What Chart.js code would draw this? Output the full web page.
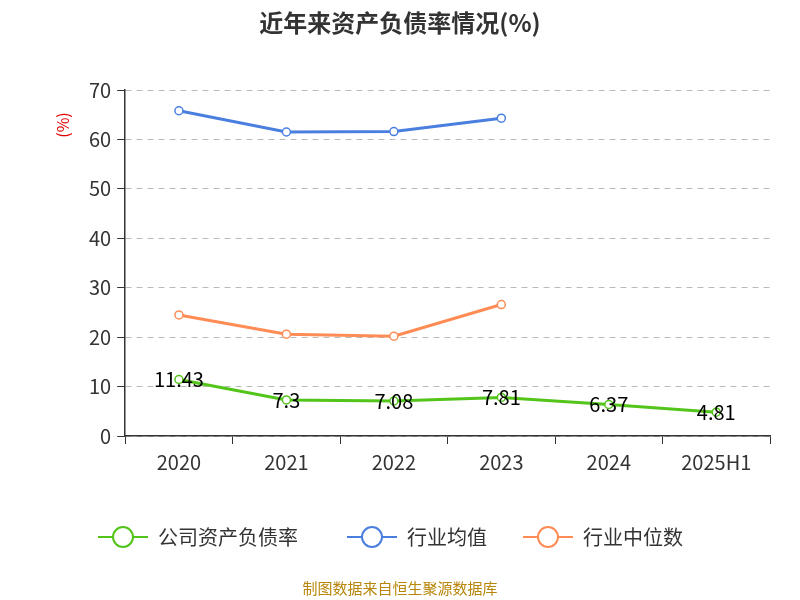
<!DOCTYPE html>
<html>
<head>
<meta charset="utf-8">
<script src="https://cdn.jsdelivr.net/npm/chart.js@4/dist/chart.umd.min.js"></script>
<style>
  body { margin: 0; background: #fff; }
  #wrap { width: 800px; height: 600px; position: relative; }
</style>
</head>
<body>
<div id="wrap"><canvas id="chart" width="800" height="600"></canvas></div>
<script>
const years = ["2020", "2021", "2022", "2023", "2024", "2025H1"];
const companyRatio = [11.43, 7.3, 7.08, 7.81, 6.37, 4.81];
const industryAvg = [65.8, 61.5, 61.6, 64.3, null, null];
const industryMedian = [24.5, 20.6, 20.2, 26.6, null, null];
const yTicks = [0, 10, 20, 30, 40, 50, 60, 70];

const fontFamily = "'Noto Sans CJK SC', 'Noto Sans', sans-serif";

// labels on the company line + title, unit, legend and source text
const extras = {
  id: "extras",
  afterDatasetsDraw(chart) {
    const ctx = chart.ctx;
    const meta = chart.getDatasetMeta(0);
    ctx.save();
    ctx.font = "20px " + fontFamily;
    ctx.fillStyle = "#000";
    ctx.textAlign = "center";
    ctx.textBaseline = "middle";
    meta.data.forEach((pt, i) => {
      ctx.fillText(String(companyRatio[i]), pt.x, pt.y);
    });
    ctx.restore();
  },
  afterDraw(chart) {
    const ctx = chart.ctx;
    ctx.save();
    ctx.fillStyle = "#333";
    ctx.font = "bold 24px " + fontFamily;
    ctx.textAlign = "center";
    ctx.textBaseline = "middle";
    ctx.fillText("近年来资产负债率情况(%)", 400, 23);

    ctx.fillStyle = "#b8860b";
    ctx.font = "15px " + fontFamily;
    ctx.fillText("制图数据来自恒生聚源数据库", 400, 588);

    // legend
    const legendX = [98, 347, 523];
    ctx.font = "20px " + fontFamily;
    ctx.textAlign = "left";
    chart.data.datasets.forEach((d, i) => {
      const x = legendX[i], y = 537;
      ctx.strokeStyle = d.borderColor;
      ctx.lineWidth = 2;
      ctx.beginPath();
      ctx.moveTo(x, y);
      ctx.lineTo(x + 50, y);
      ctx.stroke();
      ctx.beginPath();
      ctx.arc(x + 25, y, 10, 0, Math.PI * 2);
      ctx.fillStyle = "#fff";
      ctx.fill();
      ctx.stroke();
      ctx.fillStyle = "#333";
      ctx.fillText(d.label, x + 60, y);
    });

    ctx.translate(63, 125);
    ctx.rotate(-Math.PI / 2);
    ctx.textAlign = "center";
    ctx.fillStyle = "#e00000";
    ctx.font = "16px " + fontFamily;
    ctx.fillText("(%)", 0, 0);
    ctx.restore();
  }
};

function series(label, data, color) {
  return {
    label: label,
    data: data,
    borderColor: color,
    backgroundColor: "#fff",
    borderWidth: 3,
    pointRadius: 4,
    pointBorderWidth: 1.5,
    pointBackgroundColor: "#fff",
    pointBorderColor: color,
    spanGaps: false,
    fill: false,
    tension: 0
  };
}

new Chart(document.getElementById("chart").getContext("2d"), {
  type: "line",
  data: {
    labels: years,
    datasets: [
      series("公司资产负债率", companyRatio, "#52c41a"),
      series("行业均值", industryAvg, "#4a7fe0"),
      series("行业中位数", industryMedian, "#ff8c55")
    ]
  },
  options: {
    responsive: false,
    animation: false,
    layout: { padding: { top: 90, left: 83, right: 30, bottom: 120 } },
    plugins: {
      legend: { display: false },
      tooltip: { enabled: false }
    },
    scales: {
      x: {
        offset: true,
        grid: { display: true, drawOnChartArea: false, drawTicks: true, tickLength: 8, color: "#333", offset: true },
        border: { color: "#333", width: 1.5 },
        ticks: { color: "#333", font: { size: 20, family: fontFamily }, padding: 6 }
      },
      y: {
        min: 0,
        max: 70,
        afterBuildTicks(axis) { axis.ticks = yTicks.map(v => ({ value: v })); },
        grid: {
          color: "#bbb",
          tickColor: "#333",
          tickLength: 8,
          lineWidth: 1
        },
        border: { color: "#333", width: 1.5, dash: [6, 5] },
        ticks: { color: "#333", font: { size: 20, family: fontFamily }, padding: 6 }
      }
    }
  },
  plugins: [extras]
});
</script>
</body>
</html>
